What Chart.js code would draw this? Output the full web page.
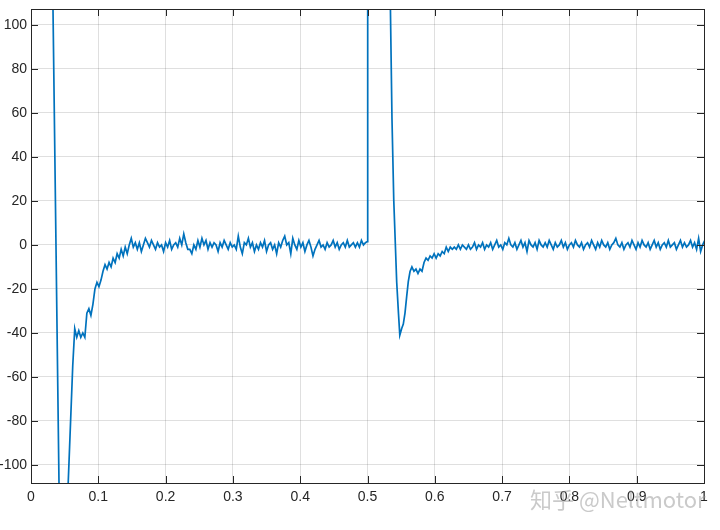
<!DOCTYPE html>
<html>
<head>
<meta charset="utf-8">
<script src="https://cdn.jsdelivr.net/npm/chart.js@4.4.1/dist/chart.umd.min.js"></script>
<style>
  html, body { margin: 0; padding: 0; background: #ffffff; }
  #wrap { position: relative; width: 720px; height: 530px; }
  canvas { display: block; }
</style>
</head>
<body>
<div id="wrap"><canvas id="c" width="720" height="530"></canvas></div>
<script>
// ---- data ----
// first transient (start-up), goes far off the axes
const spike1X = [0, 0.030, 0.044, 0.050, 0.062];
const spike1Y = [300, 172, -166, -150, -55];

// noisy recovery after start-up, sampled every 0.003 starting at 0.065
const noise1Start = 0.065;
const noise1Step = 0.003;
const noise1Y = [
  -38, -42, -39, -42, -40, -42, -31, -29, -32, -27,
  -20, -17, -19, -16, -12, -9, -11, -8, -10, -6,
  -8, -4, -6, -2, -5, -1, -4, 0, 3, -1,
  1, -2, 1, -3, 0, 3, 1, -1, 2, 0,
  -2, 1, -1, 0, -3, 1, -1, 2, -2, 0,
  1, -1, 3, 0, 5, 1, -2, -2, -4, 0,
  -2, 2, -1, 3, 0, 2, -2, 1, -1, 1,
  0, -3, 1, -1, 2, 0, -2, 1, -1, 0,
  -2, 4, -1, -4, 1, 0, 3, -1, 1, -3,
  0, -2, 1, -1, 2, -3, 0, 1, -2, 0,
  -4, 1, -1, 2, 4, 0, 1, -4, 3, 0,
  -2, 2, -1, 1, -3, 0, 2, -1, -5, -2,
  0, 2, -1, 0, -2, 1, -1, 0, 2, -1,
  1, -2, 0, 1, -1, 2, -1, 0, 1, -1,
  1, -1, 2, 0, 1
];

// second transient (load step at 0.5)
const spike2X = [0.4995, 0.5003, 0.5330, 0.5364, 0.5390, 0.5434, 0.5460, 0.5480, 0.5508, 0.5532, 0.5557, 0.5582, 0.5606, 0.5632];
const spike2Y = [1.5, 260, 130, 57, 20.5, -17, -31, -41, -38, -36, -31, -23.5, -16.7, -12.1];

// noisy recovery after the step, sampled every 0.003 starting at 0.566
const noise2Start = 0.566;
const noise2Step = 0.003;
const noise2Y = [
  -10, -12, -11, -13, -11, -12, -8, -6, -7, -5,
  -6, -4, -6, -4, -5, -3, -4, -1, -3, -1,
  -2, -1, -2, 0, -2, 0, -1, -2, 0, -2,
  -1, 1, -2, 0, -1, 1, -2, 0, -1, 1,
  -2, 0, 2, -1, 0, -2, 1, 0, 3, 0,
  -1, 1, -2, 0, 2, -1, 1, -3, 2, 0,
  -1, 1, -2, 2, 0, -1, 1, -1, 2, 0,
  -2, 1, -1, 0, 2, -1, 1, -2, 0, 1,
  -1, 2, 0, -1, 1, -2, 0, 1, -1, 2,
  0, -2, 1, -1, 2, 0, -1, 1, -2, 0,
  1, 3, 0, -1, 1, -2, 0, 1, -1, 2,
  0, -2, 1, -1, 2, 0, -1, 1, -2, 0,
  2, -1, 1, -2, 0, 1, -1, 2, -1, 0,
  1, -2, 0, 2, -1, 1, -1, 0, 2, -1,
  1, -2, 3, -3, 0, 2
];

// axis settings
const xMin = 0, xMax = 1, xStep = 0.1;
const yMin = -108.2, yMax = 107.2, yStep = 20;
const watermarkText = '知乎 @Neltmotor';

// ---- build the point list ----
const points = [];
spike1X.forEach((x, i) => points.push({ x: x, y: spike1Y[i] }));
noise1Y.forEach((y, i) => points.push({ x: +(noise1Start + i * noise1Step).toFixed(4), y: y }));
spike2X.forEach((x, i) => points.push({ x: x, y: spike2Y[i] }));
noise2Y.forEach((y, i) => points.push({ x: +(noise2Start + i * noise2Step).toFixed(4), y: y }));

const FONT = "'Liberation Sans', Arial, Helvetica, sans-serif";
const AXIS_COLOR = '#262626';
const GRID_COLOR = 'rgba(38,38,38,0.15)';

const boxPlugin = {
  id: 'matlabBox',
  afterDatasetsDraw(chart) {
    const { ctx, chartArea: a, scales } = chart;
    const tl = 7;
    ctx.save();
    ctx.strokeStyle = AXIS_COLOR;
    ctx.lineWidth = 1;
    ctx.beginPath();
    scales.x.ticks.forEach(t => {
      const px = Math.round(scales.x.getPixelForValue(t.value)) + 0.5;
      ctx.moveTo(px, a.bottom); ctx.lineTo(px, a.bottom - tl);
      ctx.moveTo(px, a.top); ctx.lineTo(px, a.top + tl);
    });
    scales.y.ticks.forEach(t => {
      const py = Math.round(scales.y.getPixelForValue(t.value)) + 0.5;
      ctx.moveTo(a.left, py); ctx.lineTo(a.left + tl, py);
      ctx.moveTo(a.right, py); ctx.lineTo(a.right - tl, py);
    });
    ctx.stroke();
    ctx.strokeRect(Math.round(a.left) + 0.5, Math.round(a.top) + 0.5,
                   Math.round(a.right - a.left), Math.round(a.bottom - a.top));
    ctx.restore();
  },
  afterDraw(chart) {
    const { ctx } = chart;
    ctx.save();
    ctx.font = "22px 'Noto Sans CJK SC', 'Liberation Sans', sans-serif";
    ctx.fillStyle = 'rgba(150,150,150,0.5)';
    ctx.textBaseline = 'alphabetic';
    ctx.textAlign = 'left';
    ctx.fillText(watermarkText, 530, 508);
    ctx.restore();
  }
};

new Chart(document.getElementById('c'), {
  type: 'line',
  data: {
    datasets: [{
      data: points,
      borderColor: '#0072BD',
      borderWidth: 1.7,
      pointRadius: 0,
      tension: 0,
      fill: false
    }]
  },
  options: {
    responsive: false,
    animation: false,
    devicePixelRatio: 1,
    layout: { padding: { top: 9, right: 16, left: 0, bottom: 0 } },
    plugins: { legend: { display: false }, tooltip: { enabled: false } },
    scales: {
      x: {
        type: 'linear',
        min: xMin, max: xMax,
        border: { display: false },
        grid: { color: GRID_COLOR, drawTicks: false, lineWidth: 1 },
        ticks: {
          stepSize: xStep,
          includeBounds: false,
          maxRotation: 0,
          autoSkip: false,
          padding: 6,
          color: AXIS_COLOR,
          font: { family: FONT, size: 14 },
          callback: v => String(+v.toFixed(1))
        },
        afterFit(scale) { scale.height = 47; scale.paddingLeft = 0; scale.paddingRight = 0; }
      },
      y: {
        type: 'linear',
        min: yMin, max: yMax,
        border: { display: false },
        grid: { color: GRID_COLOR, drawTicks: false, lineWidth: 1 },
        ticks: {
          stepSize: yStep,
          includeBounds: false,
          autoSkip: false,
          padding: 4,
          color: AXIS_COLOR,
          font: { family: FONT, size: 14 },
          callback: v => String(Math.round(v))
        },
        afterFit(scale) { scale.width = 31; scale.paddingTop = 0; scale.paddingBottom = 0; }
      }
    }
  },
  plugins: [boxPlugin]
});
</script>
</body>
</html>
